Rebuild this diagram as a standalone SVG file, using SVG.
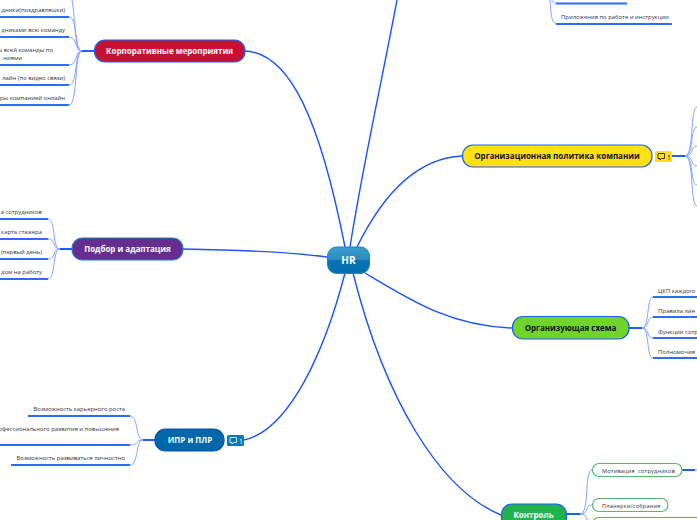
<svg xmlns="http://www.w3.org/2000/svg" width="697" height="520" viewBox="0 0 697 520">
<style>
text{font-family:"Open Sans","Noto Sans",sans-serif}
.main{fill:none;stroke:#1a55f5;stroke-width:1.4}
.thick{fill:none;stroke:#1f5ff5;stroke-width:2}
.sub{fill:none;stroke:#86a4ff;stroke-width:1}
.ul{fill:none;stroke:#2f6bf5;stroke-width:2}
.t{font-size:5.9px;fill:#333}
.e{text-anchor:end}
.n{font-size:8px;font-weight:700;text-anchor:middle;fill:#fff}
.d{fill:#111}
.b{fill:#fff;stroke:#57b86a;stroke-width:1.2}
.bt{font-size:5.6px;fill:#333;letter-spacing:.2px}
</style>
<defs>
<linearGradient id="hrg" x1="0" y1="0" x2="0" y2="1">
<stop offset="0" stop-color="#3b9bcc"/><stop offset=".48" stop-color="#2a8cc0"/><stop offset=".5" stop-color="#0872b2"/><stop offset="1" stop-color="#0070b0"/>
</linearGradient>
</defs>
<g id="connectors">
<path class="main" d="M245 51C290 53 320 120 345 247"/>
<path class="main" d="M397 0C380 90 362 170 350 247"/>
<path class="main" d="M462 156C420 158 385 190 357 247"/>
<path class="main" d="M183 249C240 250 290 252 327 257"/>
<path class="main" d="M244 440C290 430 325 350 345 273"/>
<path class="main" d="M512 328C450 326 410 300 365 273"/>
<path class="main" d="M501 515C440 490 385 400 353 273"/>
<path class="thick" d="M72 249H60M94 51H82M155 440H143M672 156H685M629 328H642M566 514H580M682 470H695"/>
<g class="sub">
<path d="M82 51C74 51 76 22 72 0"/><path d="M82 51C74 51 78 17 69 17"/><path d="M82 51C74 51 78 37 69 37"/><path d="M82 51C74 51 78 65 69 65"/><path d="M82 51C74 51 78 85 69 85"/><path d="M82 51C74 51 78 105 69 105"/>
<path d="M60 249C52 249 56 219 48 219"/><path d="M60 249C52 249 56 239 48 239"/><path d="M60 249C52 249 56 259 48 259"/><path d="M60 249C52 249 56 279 48 279"/>
<path d="M143 440C135 440 139 416 130 416"/><path d="M143 440C135 440 139 445 130 445"/><path d="M143 440C135 440 139 465 130 465"/>
<path d="M685 156C694 156 690 107 697 107"/><path d="M685 156C694 156 690 127 697 127"/><path d="M685 156C694 156 690 146 697 146"/><path d="M685 156C694 156 690 166 697 166"/><path d="M685 156C694 156 690 185 697 185"/><path d="M685 156C694 156 690 206 697 206"/>
<path d="M642 328C650 328 646 297 653 297"/><path d="M642 328C650 328 646 317 653 317"/><path d="M642 328C650 328 646 338 653 338"/><path d="M642 328C650 328 646 358 653 358"/>
<path d="M580 514C590 514 584 470 592 470"/><path d="M580 514C590 514 584 505 592 505"/><path d="M580 514C590 514 584 524 592 524"/>
<path d="M550 0C551 12 551 24 557 24"/><path d="M552 0C553 2 553 3.500 557 3.500"/>
<path d="M695 470H697"/>
</g>
<g class="ul">
<path d="M0 17H69M0 37H69M0 65H69M0 85H69M0 105H69"/>
<path d="M0 219H48M0 239H48M0 259H48M0 279H48"/>
<path d="M28 416H130M0 445H130M11 465H130"/>
<path d="M556 3.500H627M556 24H672"/>
<path d="M653 297H697M653 317H697M653 338H697M653 358H697"/>
</g>
</g>
<g id="hr"><rect x="327.500" y="247" width="42" height="26.500" rx="9" fill="url(#hrg)" stroke="#1a86b8" stroke-width="1"/><text class="n" x="348.500" y="264" style="font-size:10px">HR</text></g>
<g id="corp"><rect x="94.500" y="40" width="150.500" height="22" rx="10.500" fill="#c41230" stroke="#1f5ff5" stroke-width="1.200"/><text class="n" x="169.500" y="54">Корпоративные мероприятия</text>
<text class="t e" x="65" y="11.800">дники(поздравляшки)</text><text class="t e" x="65" y="31.800">дниками всю команду</text><text class="t e" x="53" y="51.500">ы всей команды по</text><text class="t e" x="22" y="59.500">ниями</text><text class="t e" x="65" y="79.800">лайн (по видео связи)</text><text class="t e" x="65" y="99.800">тры компанией онлайн</text></g>
<g id="podbor"><rect x="72" y="238" width="111" height="22" rx="10.500" fill="#662d91" stroke="#1f7fb5" stroke-width="1.200"/><text class="n" x="127.500" y="252">Подбор и адаптация</text>
<text class="t e" x="42" y="213.800">а сотрудников</text><text class="t e" x="42" y="233.800">карта стажера</text><text class="t e" x="42" y="253.800">(первый день)</text><text class="t e" x="42" y="273.800">дом на работу</text></g>
<g id="ipr"><rect x="155" y="429" width="69" height="22" rx="10.500" fill="#0067a8" stroke="#0a4fb0" stroke-width="1.200"/><text class="n" x="190" y="443">ИПР и ПЛР</text>
<rect x="227" y="435" width="17" height="11" rx="1.500" fill="#0b78b8"/><path d="M230 437.500h6.500v5h-3l-1.500 1.500v-1.500h-2z" fill="none" stroke="#fff" stroke-width=".8"/><text x="239" y="443.500" font-size="6.500" fill="#fff">1</text>
<text class="t e" x="125" y="410.800">Возможность карьерного роста</text><text class="t e" x="119" y="431">профессионального развития и повышения</text><text class="t e" x="125" y="460">Возможность развиваться личностно</text></g>
<g id="policy"><rect x="462.500" y="145" width="189.500" height="22" rx="10.500" fill="#ffe012" stroke="#1f5ff5" stroke-width="1.200"/><text class="n d" x="557" y="159">Организационная политика компании</text>
<rect x="655" y="151" width="17" height="11" rx="1.500" fill="#ffe012"/><path d="M658 153.500h6.500v5h-3l-1.500 1.500v-1.500h-2z" fill="none" stroke="#111" stroke-width=".8"/><text x="667" y="159.500" font-size="6.500" fill="#111">1</text>
<text class="t" x="561" y="19">Приложения по работе и инструкции</text></g>
<g id="schema"><rect x="512.500" y="316.500" width="116.500" height="22.500" rx="10.500" fill="#6fd42c" stroke="#1f5ff5" stroke-width="1.200"/><text class="n d" x="570.500" y="331">Организующая схема</text>
<text class="t" x="658" y="293">ЦКП каждого</text><text class="t" x="658" y="313">Правила лин</text><text class="t" x="658" y="333.500">Функции сотр</text><text class="t" x="658" y="353.500">Полномочия</text></g>
<g id="control"><rect x="501.500" y="504" width="65" height="24" rx="10.500" fill="#22b14c" stroke="#1f5ff5" stroke-width="1.200"/><text class="n" x="533.500" y="518">Контроль</text>
<rect class="b" x="592.500" y="463.500" width="89.500" height="13" rx="6.500"/><text class="bt" x="602" y="472.500" xml:space="preserve">Мотивация  сотрудников</text>
<rect class="b" x="592.500" y="498.500" width="75.500" height="13" rx="6.500"/><text class="bt" x="602" y="507.500">Планерки/собрания</text>
<rect class="b" x="592.500" y="517.500" width="110" height="13" rx="6.500"/></g>
</svg>
